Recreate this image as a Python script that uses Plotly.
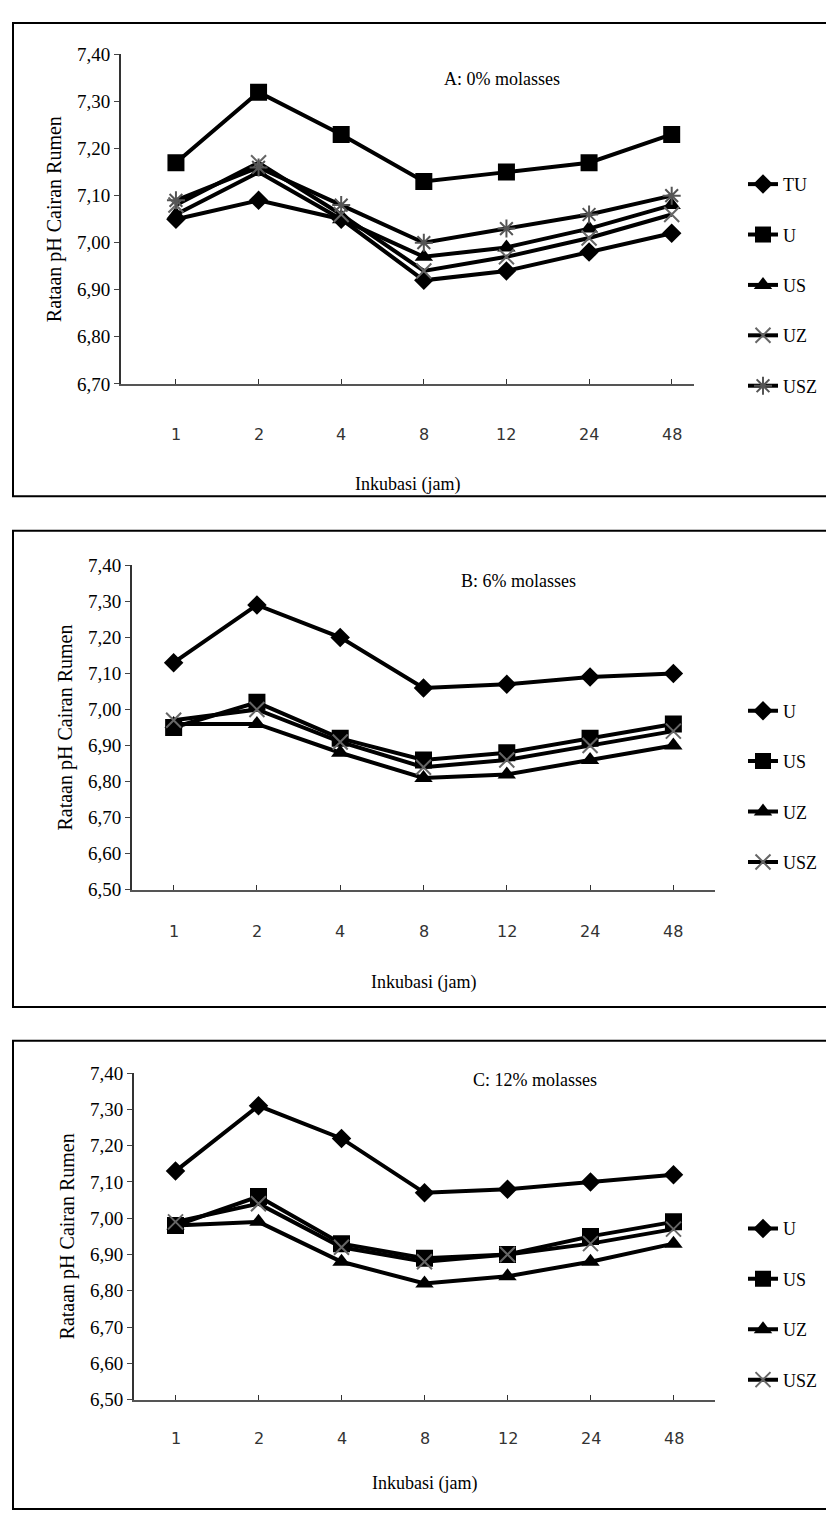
import plotly.graph_objects as go

jam = ["1", "2", "4", "8", "12", "24", "48"]

# Panel A: 0% molasses
a_TU = [7.05, 7.09, 7.05, 6.92, 6.94, 6.98, 7.02]
a_U = [7.17, 7.32, 7.23, 7.13, 7.15, 7.17, 7.23]
a_US = [7.06, 7.15, 7.05, 6.97, 6.99, 7.03, 7.08]
a_UZ = [7.08, 7.17, 7.06, 6.94, 6.97, 7.01, 7.06]
a_USZ = [7.09, 7.16, 7.08, 7.00, 7.03, 7.06, 7.10]

# Panel B: 6% molasses
b_U = [7.13, 7.29, 7.20, 7.06, 7.07, 7.09, 7.10]
b_US = [6.95, 7.02, 6.92, 6.86, 6.88, 6.92, 6.96]
b_UZ = [6.96, 6.96, 6.88, 6.81, 6.82, 6.86, 6.90]
b_USZ = [6.97, 7.00, 6.91, 6.84, 6.86, 6.90, 6.94]

# Panel C: 12% molasses
c_U = [7.13, 7.31, 7.22, 7.07, 7.08, 7.10, 7.12]
c_US = [6.98, 7.06, 6.93, 6.89, 6.90, 6.95, 6.99]
c_UZ = [6.98, 6.99, 6.88, 6.82, 6.84, 6.88, 6.93]
c_USZ = [6.99, 7.04, 6.92, 6.88, 6.90, 6.93, 6.97]

H = 1515
W = 834
SERIF = "Liberation Serif"

sym = {
    "diamond": dict(symbol="diamond", size=15, color="black"),
    "square": dict(symbol="square", size=17, color="black"),
    "triangle": dict(symbol="triangle-up", size=16, color="black"),
    "x": dict(symbol="x-thin", size=15, color="#666", line=dict(width=2, color="#666")),
    "star": dict(symbol="asterisk", size=15, color="#555", line=dict(width=2, color="#555")),
}

panels = [
    dict(ax="", legend="legend", title="A: 0% molasses", ymin=6.70, ymax=7.40,
         series=[("TU", a_TU, "diamond"), ("U", a_U, "square"), ("US", a_US, "triangle"),
                 ("UZ", a_UZ, "x"), ("USZ", a_USZ, "star")],
         px=(113, 686), py=(37, 371), xr=[-0.665, 6.27], tx=494, ty=50, tick_y=411, lab_y=460,
         leg=(735, 150)),
    dict(ax="2", legend="legend2", title="B: 6% molasses", ymin=6.50, ymax=7.40,
         series=[("U", b_U, "diamond"), ("US", b_US, "square"), ("UZ", b_UZ, "triangle"),
                 ("USZ", b_USZ, "x")],
         px=(124, 707), py=(555, 884), xr=[-0.5, 6.5], tx=510, ty=571, tick_y=926, lab_y=978,
         leg=(735, 684)),
    dict(ax="3", legend="legend3", title="C: 12% molasses", ymin=6.50, ymax=7.40,
         series=[("U", c_U, "diamond"), ("US", c_US, "square"), ("UZ", c_UZ, "triangle"),
                 ("USZ", c_USZ, "x")],
         px=(126, 707), py=(1070, 1401), xr=[-0.5, 6.5], tx=527, ty=1089, tick_y=1452, lab_y=1499,
         leg=(735, 1209)),
]

fig = go.Figure()
layout = {}
annotations = []
shapes = []
idx = list(range(len(jam)))

for p in panels:
    for name, vals, m in p["series"]:
        fig.add_trace(go.Scatter(
            x=idx, y=vals, name=name, mode="lines+markers",
            line=dict(color="black", width=4), marker=sym[m],
            xaxis="x" + p["ax"], yaxis="y" + p["ax"], legend=p["legend"],
            legendgroup=p["legend"] + name,
        ))
    ax = p["ax"]
    layout["xaxis" + ax] = dict(
        domain=[p["px"][0] / W, p["px"][1] / W], range=p["xr"], anchor="y" + ax,
        tickvals=idx, ticktext=[""] * len(jam), showline=True, linecolor="#555", linewidth=2,
        ticks="inside", ticklen=5, tickcolor="#333", showgrid=False, zeroline=False,
    )
    layout["yaxis" + ax] = dict(
        domain=[1 - p["py"][1] / H, 1 - p["py"][0] / H], range=[p["ymin"], p["ymax"]],
        anchor="x" + ax, dtick=0.1, tickformat=".2f", showline=True, linecolor="#333",
        linewidth=2, ticks="outside", ticklen=5, showgrid=False, zeroline=False,
        tickfont=dict(family=SERIF, size=19, color="black"),
        title=dict(text="Rataan pH Cairan Rumen", font=dict(family=SERIF, size=20, color="black"),
                   standoff=10),
    )
    # x tick labels (sans, grey) placed under each category
    for i, lab in enumerate(jam):
        annotations.append(dict(
            x=i, y=1 - p["tick_y"] / H, xref="x" + ax, yref="paper", text=lab,
            showarrow=False, font=dict(family="DejaVu Sans", size=16, color="#333"),
        ))
    annotations.append(dict(x=(p["px"][0] + p["px"][1]) / 2 / W, y=1 - p["lab_y"] / H,
                            xref="paper", yref="paper", text="Inkubasi (jam)", showarrow=False,
                            font=dict(family=SERIF, size=18, color="black")))
    annotations.append(dict(x=p["tx"] / W, y=1 - p["ty"] / H, xref="paper", yref="paper",
                            text=p["title"], showarrow=False,
                            font=dict(family=SERIF, size=18, color="black")))
    layout[p["legend"]] = dict(
        x=p["leg"][0] / W, y=1 - p["leg"][1] / H, xanchor="left", yanchor="top",
        font=dict(family=SERIF, size=18, color="black"), tracegroupgap=24,
        itemwidth=30, bgcolor="rgba(0,0,0,0)", traceorder="grouped",
    )

for top, bot in [(5, 485), (520, 1003), (1037, 1512)]:
    shapes.append(dict(type="rect", xref="paper", yref="paper", x0=5 / W, x1=833 / W,
                       y0=1 - bot / H, y1=1 - top / H, line=dict(color="black", width=2)))

fig.update_layout(
    width=W, height=H, margin=dict(l=0, r=0, t=0, b=0),
    paper_bgcolor="white", plot_bgcolor="white", separators=",.",
    annotations=annotations, shapes=shapes, showlegend=True, **layout,
)

fig.write_html("out.html")
